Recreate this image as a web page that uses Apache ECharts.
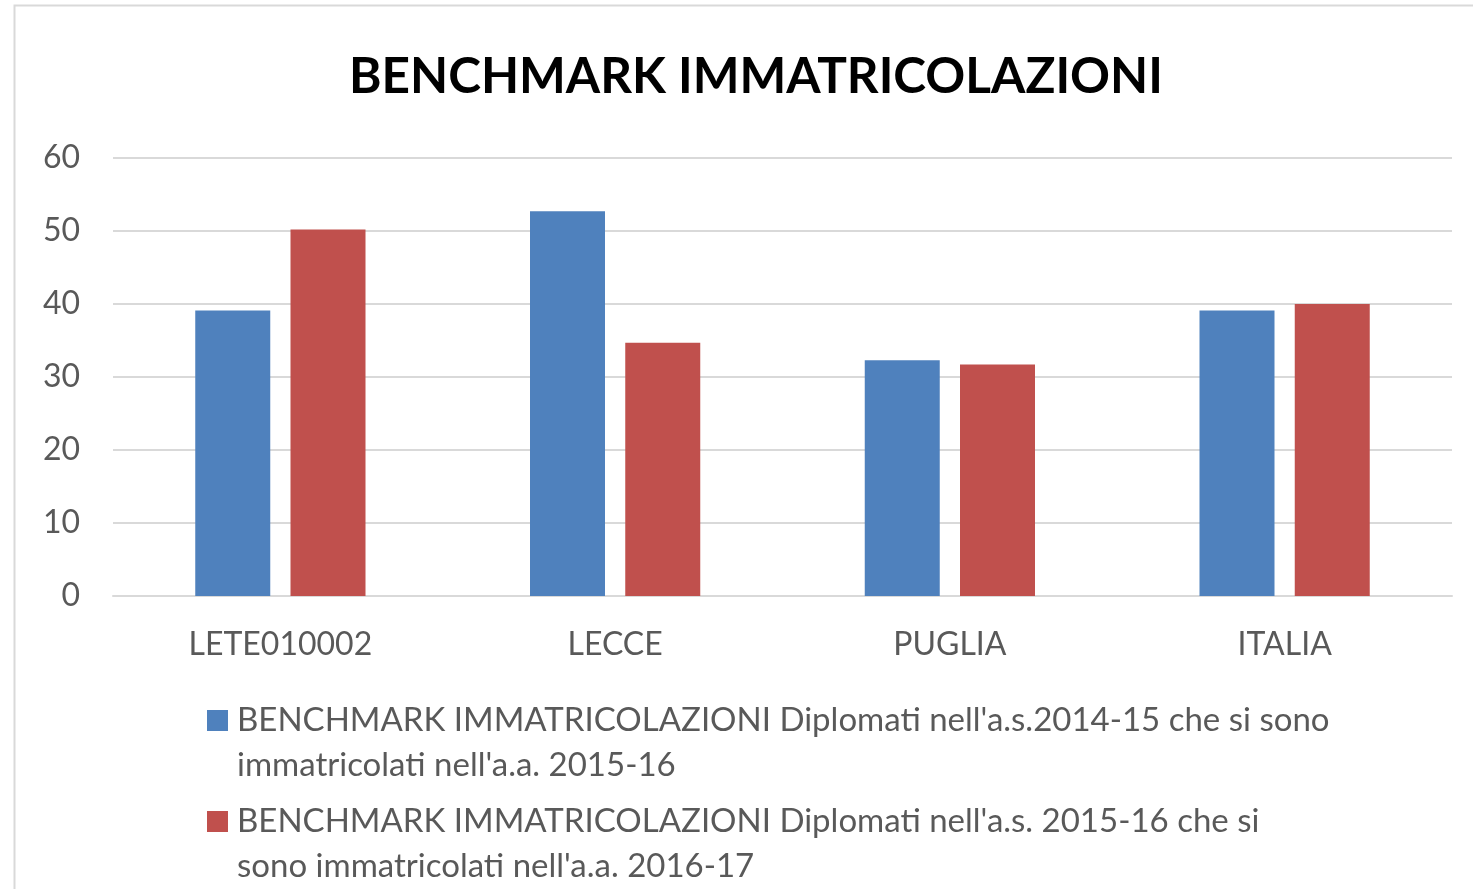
<!DOCTYPE html>
<html>
<head>
	<meta charset="UTF-8">
	<title>Benchmark immatricolazioni</title>
	<script src="https://cdn.jsdelivr.net/npm/echarts@6/dist/echarts.min.js"></script>
</head>
<body style="margin:0;">
	<div id="chart" style="width:1473px;height:889px;"></div>
<script>
var categories = ['LETE010002', 'LECCE', 'PUGLIA', 'ITALIA'];
var serie1Name = "BENCHMARK IMMATRICOLAZIONI Diplomati nell'a.s.2014-15 che si sono\nimmatricolati nell'a.a. 2015-16";
var serie2Name = "BENCHMARK IMMATRICOLAZIONI Diplomati nell'a.s. 2015-16 che si\nsono immatricolati nell'a.a. 2016-17";
var serie1 = [39.1, 52.7, 32.3, 39.1];
var serie2 = [50.2, 34.7, 31.7, 40.0];
var yTicks = [0, 10, 20, 30, 40, 50, 60];

var chart = echarts.init(document.getElementById('chart'));
var font = 'Lato';

// quadratino in alto, allineato alla prima riga del testo della legenda
var legendIcon = 'path://M0,0H21V21H0Z M25,66H25.01V65.99H25Z';

var option = {
    backgroundColor: '#fff',
    animation: false,
    title: {
        text: 'BENCHMARK IMMATRICOLAZIONI',
        left: 344,
        top: 47,
        textStyle: { fontFamily: font, fontWeight: 'bold', fontSize: 49.5, color: '#000' }
    },
    // bordo dell'area grafico (tagliato a destra e in basso)
    graphic: [{
        type: 'rect',
        shape: { x: 14.5, y: 5.5, width: 1600, height: 1000 },
        style: { fill: 'none', stroke: '#d9d9d9', lineWidth: 2 },
        silent: true
    }],
    grid: { left: 113, right: 21, top: 158, bottom: 293 },
    legend: {
        orient: 'vertical',
        left: 202,
        top: 693,
        height: 600,
        itemWidth: 25,
        itemHeight: 66,
        itemGap: 11,
        icon: legendIcon,
        textStyle: {
            fontFamily: font, fontSize: 33, color: '#595959',
            lineHeight: 45
        }
    },
    xAxis: {
        type: 'category',
        data: categories,
        axisLine: { lineStyle: { color: '#d9d9d9', width: 2 } },
        axisTick: { show: false },
        axisLabel: { fontFamily: font, fontSize: 32, color: '#595959', margin: 33 }
    },
    yAxis: {
        type: 'value',
        min: yTicks[0],
        max: yTicks[yTicks.length - 1],
        interval: 10,
        axisLine: { show: false },
        axisTick: { show: false },
        splitLine: { lineStyle: { color: '#d9d9d9', width: 2 } },
        axisLabel: { fontFamily: font, fontSize: 32, color: '#595959', margin: 33 }
    },
    series: [{
        name: serie1Name,
        type: 'bar',
        data: serie1,
        barWidth: 75,
        barGap: '27%',
        itemStyle: { color: '#4f81bd' }
    }, {
        name: serie2Name,
        type: 'bar',
        data: serie2,
        barWidth: 75,
        itemStyle: { color: '#c0504d' }
    }]
};

chart.setOption(option);
</script>
</body>
</html>
